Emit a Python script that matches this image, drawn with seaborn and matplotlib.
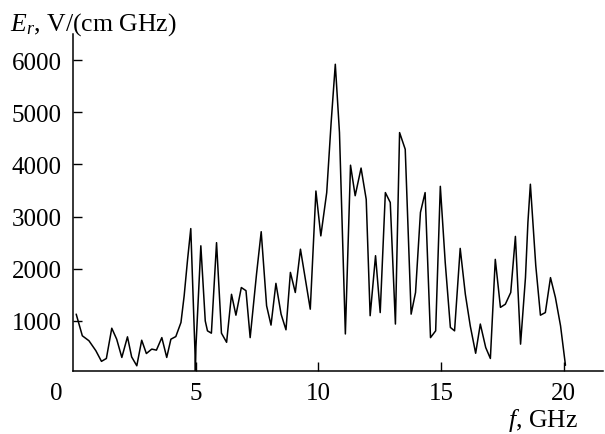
import matplotlib
matplotlib.use("Agg")
import matplotlib.pyplot as plt
import matplotlib.transforms as mtrans
import seaborn as sns
import pandas as pd

freq = [0.13, 0.38, 0.65, 0.93, 1.16, 1.36, 1.58, 1.78, 1.99, 2.22, 2.39, 2.60,
        2.80, 2.99, 3.21, 3.40, 3.62, 3.82, 3.99, 4.19, 4.40, 4.53, 4.67, 4.80,
        4.97, 4.99, 5.01, 5.21, 5.39, 5.48, 5.64, 5.85, 6.05, 6.26, 6.46, 6.64,
        6.86, 7.05, 7.22, 7.48, 7.67, 7.89, 8.07, 8.27, 8.48, 8.68, 8.86, 9.06,
        9.27, 9.67, 9.90, 10.10, 10.34, 10.52, 10.69, 10.86, 11.10, 11.31, 11.50,
        11.74, 11.95, 12.11, 12.33, 12.52, 12.73, 12.93, 13.14, 13.31, 13.54,
        13.78, 13.96, 14.16, 14.35, 14.57, 14.78, 14.97, 15.17, 15.38, 15.55,
        15.78, 15.99, 16.19, 16.41, 16.60, 16.82, 17.01, 17.21, 17.42, 17.62,
        17.84, 18.03, 18.24, 18.44, 18.54, 18.64, 18.86, 19.05, 19.25, 19.46,
        19.66, 19.87, 20.07]
field = [1130, 715, 620, 430, 225, 280, 860, 650, 300, 695, 310, 140,
         630, 375, 460, 440, 680, 300, 650, 700, 970, 1480, 2180, 2770,
         430, 40, 500, 2440, 1000, 810, 765, 2500, 765, 590, 1510, 1110,
         1640, 1580, 680, 1900, 2710, 1290, 920, 1720, 1130, 830, 1930, 1545,
         2375, 1225, 3490, 2630, 3460, 4800, 5920, 4610, 750, 3985, 3400,
         3930, 3330, 1100, 2250, 1160, 3460, 3270, 940, 4610, 4290,
         1130, 1545, 3080, 3460, 680, 810, 3580, 2120, 875, 810,
         2390, 1510, 905, 380, 940, 490, 280, 2180, 1260, 1320,
         1545, 2620, 555, 1830, 2890, 3620, 2060, 1110, 1160, 1830,
         1450, 905, 150]

xtick_vals = [0, 5, 10, 15, 20]
ytick_vals = [1000, 2000, 3000, 4000, 5000, 6000]

sns.set_theme(style="ticks")
plt.rcParams['font.family'] = ['Liberation Serif', 'DejaVu Serif']
plt.rcParams['mathtext.fontset'] = 'custom'
plt.rcParams['mathtext.rm'] = 'Liberation Serif'
plt.rcParams['mathtext.it'] = 'Liberation Serif:italic'

fig = plt.figure(figsize=(6.05, 4.35), dpi=100)
ax = fig.add_axes([73/605, 1 - 372/435, (603-73)/605, (372-35)/435])

df = pd.DataFrame({"f": freq, "E": field})
sns.lineplot(data=df, x="f", y="E", ax=ax, color="black", linewidth=1.1,
             sort=False, estimator=None)

ax.set_xlim(0, 21.6)
ax.set_ylim(40, 6500)
ax.set_xticks(xtick_vals)
ax.set_xticklabels([str(v) for v in xtick_vals])
ax.set_yticks(ytick_vals)
ax.set_yticklabels([str(v) for v in ytick_vals])
ax.tick_params(direction="in", length=6.3, width=1, colors="black",
               labelsize=18, pad=8)
ax.set_xlabel("")
ax.set_ylabel("")
for s in ["top", "right"]:
    ax.spines[s].set_visible(False)
for s in ["left", "bottom"]:
    ax.spines[s].set_color("black")
    ax.spines[s].set_linewidth(1.1)

# shift the "0" label left of the corner
lab0 = ax.get_xticklabels()[0]
lab0.set_transform(lab0.get_transform() +
                   mtrans.ScaledTranslation(-16.5/100, 0, fig.dpi_scale_trans))
ax.xaxis.get_major_ticks()[0].tick1line.set_visible(False)

fig.text(10/605, 1 - 31/435, r"$E_r$, V/(cm GHz)", fontsize=18.5,
         ha="left", va="baseline", color="black")
fig.text(578/605, 1 - 427/435, r"$f$, GHz", fontsize=18.5,
         ha="right", va="baseline", color="black")

fig.savefig("out.png", dpi=100)
